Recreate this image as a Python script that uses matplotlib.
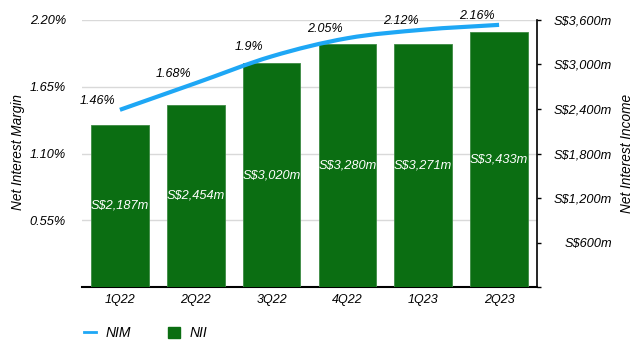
import matplotlib
matplotlib.use("Agg")
import matplotlib.pyplot as plt
from matplotlib.path import Path
from matplotlib.patches import PathPatch, Patch
from matplotlib.lines import Line2D
import numpy as np

categories = ["1Q22", "2Q22", "3Q22", "4Q22", "1Q23", "2Q23"]
nim = [1.46, 1.68, 1.9, 2.05, 2.12, 2.16]
nim_labels = ["1.46%", "1.68%", "1.9%", "2.05%", "2.12%", "2.16%"]
nii = [2187, 2454, 3020, 3280, 3271, 3433]
nii_labels = ["S$2,187m", "S$2,454m", "S$3,020m", "S$3,280m", "S$3,271m", "S$3,433m"]
left_ticks = [0.55, 1.10, 1.65, 2.20]
left_tick_labels = ["0.55%", "1.10%", "1.65%", "2.20%"]
right_ticks = [0, 600, 1200, 1800, 2400, 3000, 3600]
right_tick_labels = ["", "S$600m", "S$1,200m", "S$1,800m", "S$2,400m", "S$3,000m", "S$3,600m"]

GREEN = "#0b6e12"
BLUE = "#1ea7f5"
FONT = "Liberation Sans"

plt.rcParams["font.family"] = [FONT, "DejaVu Sans"]
plt.rcParams["font.style"] = "italic"

fig = plt.figure(figsize=(6.4, 3.5), dpi=100)
ax = fig.add_axes([82/640, 63/350, (537-82)/640, (287-20)/350])
ax2 = ax.twinx()

x = np.arange(len(categories))

# bars on right axis
ax2.bar(x, nii, width=0.76, color=GREEN, edgecolor="#3d8a43", linewidth=0.6, zorder=2)
for xi, v, lab in zip(x, nii, nii_labels):
    ax2.text(xi, v/2, lab, color="white", ha="center", va="center",
             fontsize=9.2, style="italic", zorder=3)
ax2.set_ylim(0, 3600)
ax2.set_yticks(right_ticks)
ax2.set_yticklabels(right_tick_labels)
ax2.tick_params(axis="y", direction="out", length=3, width=1, colors="black",
                pad=51, labelsize=9.2)
for t in ax2.get_yticklabels():
    t.set_ha("right")
    t.set_style("italic")
for s in ["top", "left", "bottom"]:
    ax2.spines[s].set_visible(False)
ax2.spines["right"].set_linewidth(1.2)

# left axis
ax.set_ylim(0, 2.20)
ax.set_xlim(-0.5, 5.5)
ax.set_yticks(left_ticks)
ax.set_yticklabels(left_tick_labels)
ax.tick_params(axis="y", length=0, pad=11.5, labelsize=9.2)
ax.set_xticks(x)
ax.set_xticklabels(categories)
ax.tick_params(axis="x", length=0, pad=5, labelsize=9)
ax.grid(axis="y", color="#d9d9d9", linewidth=1)
ax.set_axisbelow(True)
for s in ["top", "left", "right"]:
    ax.spines[s].set_visible(False)
ax.spines["bottom"].set_linewidth(1.5)
ax.spines["bottom"].set_zorder(5)

ax.set_zorder(1)
ax2.set_zorder(2)
ax.patch.set_visible(True)
ax2.patch.set_visible(False)

# smooth NIM line via cubic Bezier through the data points
y = np.array(nim, dtype=float)
d = np.diff(y)
m = np.zeros_like(y)
m[0] = d[0]
m[-1] = d[-1]
for i in range(1, len(y) - 1):
    m[i] = (d[i-1] + d[i]) / 2 if d[i-1] * d[i] > 0 else 0.0
verts = [(x[0], y[0])]
codes = [Path.MOVETO]
for i in range(len(y) - 1):
    verts += [(x[i] + 1/3, y[i] + m[i]/3),
              (x[i+1] - 1/3, y[i+1] - m[i+1]/3),
              (x[i+1], y[i+1])]
    codes += [Path.CURVE4] * 3
path = Path(verts, codes)
ax2.add_patch(PathPatch(path, transform=ax.transData, facecolor="none",
                        edgecolor=BLUE, linewidth=3, zorder=4, capstyle="butt"))

for xi, v, lab in zip(x, nim, nim_labels):
    ax2.annotate(lab, xy=(xi, v), xycoords=ax.transData, xytext=(-16, 6.5),
                 textcoords="offset points", ha="center", va="center",
                 fontsize=9, style="italic", color="black", zorder=5)

# axis titles
fig.text(18/640, 1 - 152/350, "Net Interest Margin", rotation=90, ha="center",
         va="center", fontsize=9.8, style="italic")
fig.text(627/640, 1 - 153/350, "Net Interest Income", rotation=90, ha="center",
         va="center", fontsize=9.8, style="italic")

# legend
handles = [Line2D([], [], color=BLUE, linewidth=2),
           Patch(facecolor=GREEN, edgecolor=GREEN)]
fig.legend(handles, ["NIM", "NII"], loc="center left",
           bbox_to_anchor=(84/640, 17/350), ncol=2, frameon=False,
           borderpad=0, borderaxespad=0, handlelength=0.85, handleheight=0.85,
           handletextpad=0.7, columnspacing=2.7,
           prop={"family": FONT, "style": "italic", "size": 10})

fig.savefig("out.png", dpi=100)
